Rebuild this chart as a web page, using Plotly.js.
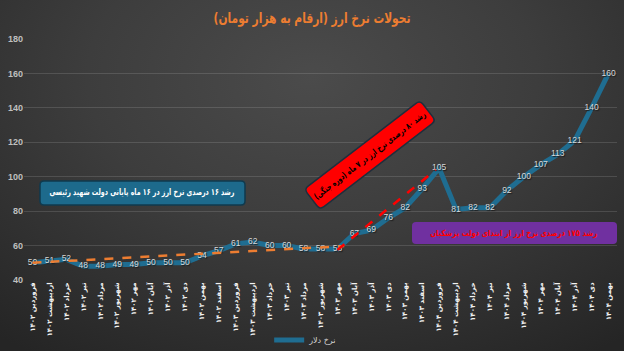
<!DOCTYPE html>
<html>
<head>
<meta charset="utf-8">
<script src="https://cdn.plot.ly/plotly-3.0.1.min.js"></script>
<style>
html,body{margin:0;padding:0;}
body{width:624px;height:351px;overflow:hidden;
background:radial-gradient(ellipse 80% 95% at 50% 22%, #4b4b4b 0%, #3d3d3d 45%, #252525 100%);}
#chart{width:624px;height:351px;}
</style>
</head>
<body>
<div id="chart"></div>
<script>
// ---- data ----
const monthLabels = [
 'فروردین ۱۴۰۲','اردیبهشت ۱۴۰۲','خرداد ۱۴۰۲','تیر ۱۴۰۲','مرداد ۱۴۰۲','شهریور ۱۴۰۲',
 'مهر ۱۴۰۲','آبان ۱۴۰۲','آذر ۱۴۰۲','دی ۱۴۰۲','بهمن ۱۴۰۲','اسفند ۱۴۰۲',
 'فروردین ۱۴۰۳','اردیبهشت ۱۴۰۳','خرداد ۱۴۰۳','تیر ۱۴۰۳','مرداد ۱۴۰۳','شهریور ۱۴۰۳',
 'مهر ۱۴۰۳','آبان ۱۴۰۳','آذر ۱۴۰۳','دی ۱۴۰۳','بهمن ۱۴۰۳','اسفند ۱۴۰۳',
 'فروردین ۱۴۰۴','اردیبهشت ۱۴۰۴','خرداد ۱۴۰۴','تیر ۱۴۰۴','مرداد ۱۴۰۴','شهریور ۱۴۰۴',
 'مهر ۱۴۰۴','آبان ۱۴۰۴','آذر ۱۴۰۴','دی ۱۴۰۴','بهمن ۱۴۰۴'
];
const dollarRate = [50,51,52,48,48,49,49,50,50,50,54,57,61,62,60,60,58,58,58,67,69,76,82,93,105,81,82,82,92,100,107,113,121,140,160];
const trendRaisiX = [0, 18.4];
const trendRaisiY = [50, 59.7];
const trendWarX = [18, 23.8];
const trendWarY = [57.5, 104];
const yTicks = [40,60,80,100,120,140,160,180];
const seriesName = 'نرخ دلار';
const titleText = 'تحولات نرخ ارز (ارقام به هزار تومان)';
const noteRaisi = 'رشد ۱۶ درصدی نرخ ارز در ۱۶ ماه پایانی دولت شهید رئیسی';
const noteWar = 'رشد ۸۰ درصدی نرخ ارز در ۷ ماه (دوره جنگی)';
const notePezeshkian = 'رشد ۱۷۵ درصدی نرخ ارز از ابتدای دولت پزشکیان';

const xIdx = dollarRate.map((_, i) => i);

// ---- geometry helpers (pixel -> paper) ----
const L = 24, T = 39, W = 593, H = 241;
const px = x => ((x - L) / W).toFixed(5);
const py = y => ((T + H - y) / H).toFixed(5);
function roundBox(cx, cy, w, h, r, deg) {
  const a = deg * Math.PI / 180, c = Math.cos(a), s = Math.sin(a);
  const P = (lx, ly) => px(cx + lx * c - ly * s) + ',' + py(cy + lx * s + ly * c);
  const x0 = -w / 2, x1 = w / 2, y0 = -h / 2, y1 = h / 2;
  return 'M' + P(x0 + r, y0) + ' L' + P(x1 - r, y0) + ' Q' + P(x1, y0) + ' ' + P(x1, y0 + r) +
    ' L' + P(x1, y1 - r) + ' Q' + P(x1, y1) + ' ' + P(x1 - r, y1) +
    ' L' + P(x0 + r, y1) + ' Q' + P(x0, y1) + ' ' + P(x0, y1 - r) +
    ' L' + P(x0, y0 + r) + ' Q' + P(x0, y0) + ' ' + P(x0 + r, y0) + ' Z';
}

const FONT = 'DejaVu Sans, sans-serif';

const traces = [
  {
    x: xIdx, y: dollarRate, type: 'scatter', mode: 'lines+text', name: seriesName,
    line: {color: '#1f6d91', width: 5},
    text: dollarRate.map(String), textposition: 'middle center',
    textfont: {family: 'Liberation Sans, Arial, sans-serif', size: 8.5, color: '#d8d8d8', shadow: '1px 1px 1px #1a1a1a'},
    hoverinfo: 'skip'
  },
  {
    x: trendRaisiX, y: trendRaisiY, type: 'scatter', mode: 'lines', showlegend: false,
    line: {color: '#ED7D31', width: 2.5, dash: 'dash'}, hoverinfo: 'skip'
  },
  {
    x: trendWarX, y: trendWarY, type: 'scatter', mode: 'lines', showlegend: false,
    line: {color: '#FF0000', width: 2.5, dash: 'dash'}, hoverinfo: 'skip'
  }
];

const layout = {
  width: 624, height: 351,
  margin: {l: L, r: 624 - L - W, t: T, b: 351 - T - H, autoexpand: false},
  paper_bgcolor: 'rgba(0,0,0,0)', plot_bgcolor: 'rgba(0,0,0,0)',
  title: {text: titleText, x: 0.5, xanchor: 'center', y: 1 - 18 / 351, yanchor: 'middle',
          font: {family: FONT, size: 14.5, color: '#ED7D31', weight: 'bold'}},
  xaxis: {
    range: [-0.5, 34.5], tickmode: 'array', tickvals: xIdx, ticktext: monthLabels, automargin: false,
    tickangle: -90, tickfont: {family: FONT, size: 7, color: '#f2f2f2', weight: 'bold'},
    showgrid: false, zeroline: false, showline: false, ticks: '', fixedrange: true
  },
  yaxis: {
    range: [40, 180], tickmode: 'array', tickvals: yTicks, automargin: false,
    tickfont: {family: 'Liberation Sans, Arial, sans-serif', size: 9, color: '#bfbfbf', weight: 'bold'},
    showgrid: true, gridcolor: 'rgba(255,255,255,0.13)', gridwidth: 1,
    zeroline: false, showline: false, ticks: '', ticklen: 0, fixedrange: true
  },
  showlegend: true,
  legend: {orientation: 'h', x: 0.475, xanchor: 'center', y: (T + H - 340) / H, yanchor: 'middle',
           font: {family: FONT, size: 8, color: '#d9d9d9'}, bgcolor: 'rgba(0,0,0,0)'},
  shapes: [
    {type: 'path', xref: 'paper', yref: 'paper', path: roundBox(142.5, 193, 205, 24, 4, 0),
     fillcolor: '#1d6a8c', line: {color: '#0f3a4e', width: 1.5}, layer: 'above'},
    {type: 'path', xref: 'paper', yref: 'paper', path: roundBox(370, 155, 146, 26, 5, -37.5),
     fillcolor: '#FF0000', line: {color: '#1e2f3d', width: 1.5}, layer: 'above'},
    {type: 'path', xref: 'paper', yref: 'paper', path: roundBox(514.5, 233, 205, 22, 4, 0),
     fillcolor: '#7030A0', line: {width: 0}, layer: 'above'}
  ],
  annotations: [
    {xref: 'paper', yref: 'paper', x: px(142.5), y: py(193), xanchor: 'center', yanchor: 'middle',
     text: noteRaisi, showarrow: false, font: {family: FONT, size: 9, color: '#ffffff', weight: 'bold'}},
    {xref: 'paper', yref: 'paper', x: px(370), y: py(155), xanchor: 'center', yanchor: 'middle',
     text: noteWar, showarrow: false, textangle: -37.5, font: {family: FONT, size: 8.5, color: '#000000', weight: 'bold'}},
    {xref: 'paper', yref: 'paper', x: px(514.5), y: py(233), xanchor: 'center', yanchor: 'middle',
     text: notePezeshkian, showarrow: false, font: {family: FONT, size: 8.5, color: '#FF0000', weight: 'bold'}}
  ]
};

// target rendered widths (px) of the Persian texts, matched to the reference
const fitWidths = [185, 138, 167];
const titleWidth = 197;

Plotly.newPlot('chart', traces, layout, {displayModeBar: false, staticPlot: true}).then(gd => {
  const fit = (el, w) => {
    if (!el) return;
    el.setAttribute('textLength', w);
    el.setAttribute('lengthAdjust', 'spacingAndGlyphs');
  };
  fit(gd.querySelector('.g-gtitle text'), titleWidth);
  gd.querySelectorAll('.annotation-text').forEach((el, i) => fit(el, fitWidths[i]));
});
</script>
</body>
</html>
